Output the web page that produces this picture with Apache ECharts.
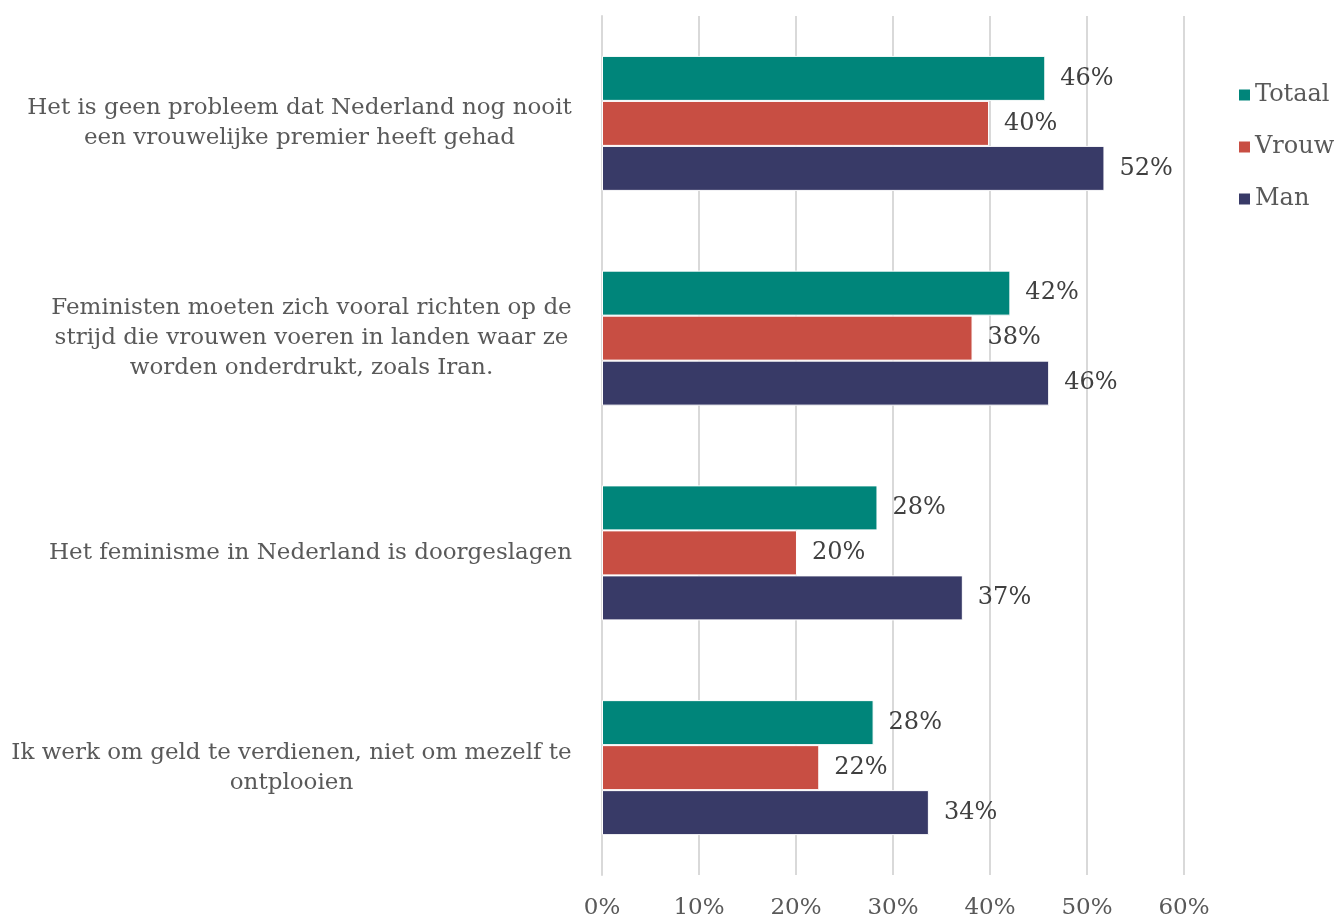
<!DOCTYPE html>
<html>
<head>
<meta charset="utf-8">
<script src="https://cdn.jsdelivr.net/npm/echarts@6/dist/echarts.min.js"></script>
<style>
  html, body { margin: 0; padding: 0; background: #ffffff; }
  #chart { width: 1337px; height: 920px; }
</style>
</head>
<body>
<div id="chart"></div>
<script>
// Statements (top to bottom)
const categories = [
  'Het is geen probleem dat Nederland nog nooit\neen vrouwelijke premier heeft gehad',
  'Feministen moeten zich vooral richten op de\nstrijd die vrouwen voeren in landen waar ze\nworden onderdrukt, zoals Iran.',
  'Het feminisme in Nederland is doorgeslagen',
  'Ik werk om geld te verdienen, niet om mezelf te\nontplooien'
];
const seriesNames = ['Totaal', 'Vrouw', 'Man'];
// Share agreeing, in percent
const totaal = [45.7, 42.1, 28.4, 28.0];
const vrouw  = [39.9, 38.2, 20.1, 22.4];
const man    = [51.8, 46.1, 37.2, 33.7];
const colors = ['#00857A', '#C84E43', '#383A67'];
const xTicks = [0, 10, 20, 30, 40, 50, 60];

const FONT = '"DejaVu Serif", serif';
const TEXT = '#595959';
const CAT_SIZE = 23;

// Each category label is a right-aligned block whose lines are centred
// within the block: measure the widest line to size the block.
const measureCtx = document.createElement('canvas').getContext('2d');
measureCtx.font = CAT_SIZE + 'px "DejaVu Serif"';
const catRich = {};
categories.forEach((c, i) => {
  const w = Math.max(...c.split('\n').map(l => measureCtx.measureText(l).width));
  catRich['r' + i] = { width: Math.ceil(w), align: 'center', fontFamily: FONT, fontSize: CAT_SIZE, lineHeight: 30, color: TEXT };
});

const chart = echarts.init(document.getElementById('chart'));

function barSeries(name, data, color) {
  return {
    name: name,
    type: 'bar',
    data: data,
    barWidth: 45,
    barGap: '0%',
    itemStyle: { color: color, borderColor: '#ffffff', borderWidth: 1 },
    label: {
      show: true,
      position: 'right',
      distance: 15,
      formatter: p => Math.round(p.value) + '%',
      fontFamily: FONT,
      fontSize: 24,
      color: '#404040'
    }
  };
}

chart.setOption({
  animation: false,
  textStyle: { fontFamily: FONT },
  grid: { left: 602, right: 153, top: 16, bottom: 43, containLabel: false },
  legend: {
    orient: 'vertical',
    left: 1232,
    top: 78,
    itemWidth: 13,
    itemHeight: 13,
    itemGap: 28,
    icon: 'rect',
    data: seriesNames,
    textStyle: { fontFamily: FONT, fontSize: 24, color: TEXT, padding: [0, 0, 0, -1] }
  },
  xAxis: {
    type: 'value',
    min: xTicks[0],
    max: xTicks[xTicks.length - 1],
    interval: 10,
    axisLine: { show: false },
    axisTick: { show: false },
    splitLine: { show: true, lineStyle: { color: '#d9d9d9', width: 2 } },
    axisLabel: {
      margin: 22,
      formatter: v => v + '%',
      fontFamily: FONT,
      fontSize: 23,
      color: TEXT
    }
  },
  yAxis: {
    type: 'category',
    data: categories,
    inverse: true,
    axisLine: { show: true, lineStyle: { color: '#d9d9d9', width: 2 } },
    axisTick: { show: false },
    axisLabel: {
      margin: 30,
      align: 'right',
      formatter: (value, index) => value.split('\n').map(l => '{r' + index + '|' + l + '}').join('\n'),
      rich: catRich,
      fontFamily: FONT,
      fontSize: CAT_SIZE,
      lineHeight: 30,
      color: TEXT
    }
  },
  series: [
    barSeries(seriesNames[0], totaal, colors[0]),
    barSeries(seriesNames[1], vrouw, colors[1]),
    barSeries(seriesNames[2], man, colors[2])
  ]
});
</script>
</body>
</html>
